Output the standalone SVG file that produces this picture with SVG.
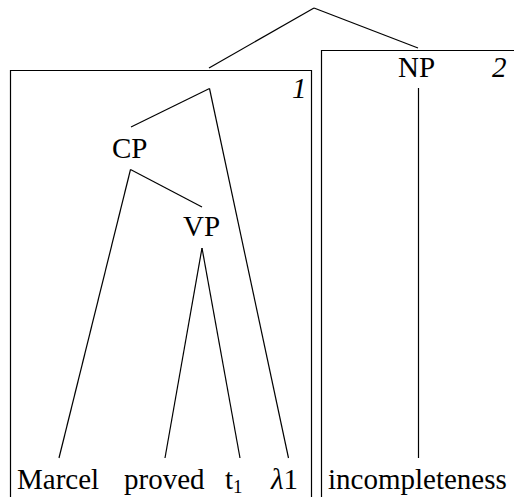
<svg xmlns="http://www.w3.org/2000/svg" width="514" height="497" viewBox="0 0 514 497">
  <rect width="514" height="497" fill="#fff"/>

  <!-- index boxes -->
  <g stroke="#000" stroke-width="1.2" fill="none">
    <g id="box1"><path d="M10.5,500 V70.5 H311.5 V500"/></g>
    <g id="box2"><path d="M321.5,500 V50.5 H520"/></g>
  </g>

  <!-- tree edges -->
  <g id="edges" stroke="#000" stroke-width="1.2" fill="none">
    <line x1="314" y1="8" x2="209" y2="68"/>
    <line x1="314" y1="8" x2="418" y2="48"/>
    <line x1="209.5" y1="88.5" x2="131" y2="127"/>
    <line x1="209.5" y1="88.5" x2="288.5" y2="458"/>
    <line x1="130.5" y1="169.5" x2="202" y2="207"/>
    <line x1="130.5" y1="169.5" x2="59" y2="458"/>
    <line x1="202" y1="248" x2="165" y2="458"/>
    <line x1="202" y1="248" x2="240" y2="458"/>
    <line x1="418.5" y1="88" x2="418.5" y2="458"/>
  </g>

  <!-- node labels -->
  <g font-family="Liberation Serif" font-size="29" fill="#000">
    <g id="label1"><text x="292" y="98" font-style="italic">1</text></g>
    <g id="label2"><text x="492" y="77" font-style="italic">2</text></g>
    <g id="np"><text x="398" y="77">NP</text></g>
    <g id="cp"><text x="112" y="158">CP</text></g>
    <g id="vp"><text x="183" y="236">VP</text></g>
    <g id="marcel"><text x="17" y="489">Marcel</text></g>
    <g id="proved"><text x="124" y="489">proved</text></g>
    <g id="t1"><text x="225" y="489">t<tspan font-size="19" dy="4">1</tspan></text></g>
    <g id="lambda1"><text x="271" y="489"><tspan font-style="italic">λ</tspan>1</text></g>
    <g id="incompleteness"><text x="328" y="489">incompleteness</text></g>
  </g>
</svg>
